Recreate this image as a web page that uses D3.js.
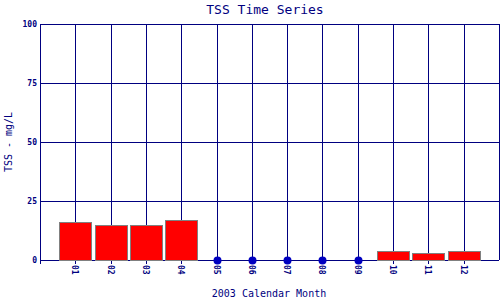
<!DOCTYPE html>
<html lang="en">
<head>
  <meta charset="UTF-8">
  <script src="https://d3js.org/d3.v7.min.js"></script>
  <style>
    body { margin: 0; background: #fff; }
    text { font-family: "DejaVu Sans Mono", monospace; fill: #000080; }
    .grid line { stroke: #000080; stroke-width: 1px; shape-rendering: crispEdges; }
    .tick-label { font-size: 8px; font-weight: bold; }
  </style>
  <title>TSS Time Series</title>
</head>
<body>
  <svg id="chart" width="500" height="300"></svg>
  <script>
    // data
    var months = ["01", "02", "03", "04", "05", "06", "07", "08", "09", "10", "11", "12"];
    var tss = [16.1, 14.7, 14.7, 16.8, 0, 0, 0, 0, 0, 3.8, 2.8, 3.8];
    var yTicks = [0, 25, 50, 75, 100];

    var svg = d3.select("#chart");
    var mLeft = 40, mRight = 499, mTop = 24, mBottom = 260;

    // month i sits at i+1 on a 0..13 scale
    var x = d3.scaleLinear().domain([0, 13]).range([mLeft, mRight]);
    var y = d3.scaleLinear().domain([0, 100]).range([mBottom, mTop]);
    var barW = 32;

    var grid = svg.append("g").attr("class", "grid");

    // horizontal grid
    grid.selectAll("line.h")
      .data(yTicks)
      .enter().append("line")
      .attr("x1", mLeft).attr("x2", mRight)
      .attr("y1", d => Math.round(y(d)) + 0.5)
      .attr("y2", d => Math.round(y(d)) + 0.5);

    // vertical grid (with tick below axis)
    grid.selectAll("line.v")
      .data(d3.range(0, 14))
      .enter().append("line")
      .attr("x1", d => Math.round(x(d)) + 0.5)
      .attr("x2", d => Math.round(x(d)) + 0.5)
      .attr("y1", mTop)
      .attr("y2", d => (d === 13 ? mBottom : mBottom + 4));

    // bars
    svg.selectAll("rect.bar")
      .data(tss.map((v, i) => ({ m: months[i], v: v, i: i })).filter(d => d.v > 0))
      .enter().append("rect")
      .attr("class", "bar")
      .attr("x", d => Math.round(x(d.i + 1) - barW / 2) + 0.5)
      .attr("y", d => Math.round(y(d.v)) + 0.5)
      .attr("width", barW)
      .attr("height", d => Math.round(y(0)) - Math.round(y(d.v)))
      .attr("fill", "#ff0000")
      .attr("stroke", "#808080")
      .attr("stroke-width", 1);

    // zero dots
    svg.selectAll("circle.zero")
      .data(tss.map((v, i) => ({ v: v, i: i })).filter(d => d.v === 0))
      .enter().append("circle")
      .attr("cx", d => Math.round(x(d.i + 1)) + 0.5)
      .attr("cy", Math.round(y(0)) + 0.5)
      .attr("r", 4)
      .attr("fill", "#0000c0");

    // y tick labels
    svg.selectAll("text.ytick")
      .data(yTicks)
      .enter().append("text")
      .attr("class", "tick-label")
      .attr("x", 37)
      .attr("y", d => y(d) + 3)
      .attr("text-anchor", "end")
      .text(d => d);

    // x tick labels, rotated
    svg.selectAll("text.xtick")
      .data(months)
      .enter().append("text")
      .attr("class", "tick-label")
      .attr("transform", (d, i) => "translate(" + (x(i + 1) - 3) + "," + 265 + ") rotate(90)")
      .attr("text-anchor", "start")
      .text(d => d);

    // title and axis titles
    svg.append("text")
      .attr("x", 265).attr("y", 14)
      .attr("text-anchor", "middle")
      .style("font-size", "13px")
      .text("TSS Time Series");

    svg.append("text")
      .attr("x", 269).attr("y", 297)
      .attr("text-anchor", "middle")
      .style("font-size", "10px")
      .text("2003 Calendar Month");

    svg.append("text")
      .attr("transform", "translate(12,142) rotate(-90)")
      .attr("text-anchor", "middle")
      .style("font-size", "10px")
      .text("TSS - mg/L");
  </script>
</body>
</html>
